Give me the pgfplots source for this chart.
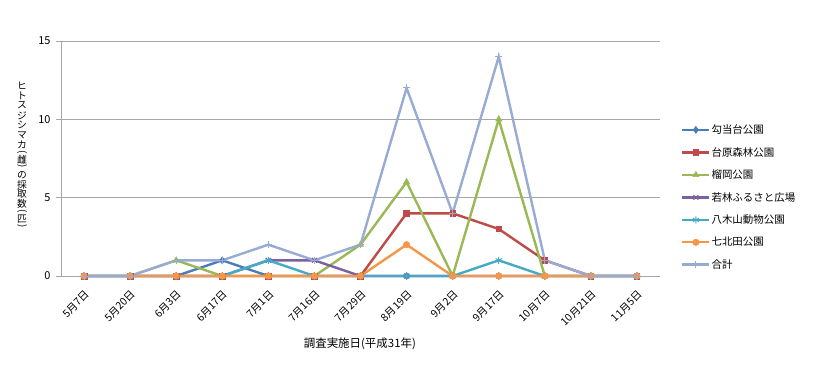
\documentclass[border=0pt]{standalone}
\usepackage{pgfplots}
\pgfplotsset{compat=1.18}
\usepackage{fontspec}
\setmainfont{Noto Sans CJK JP}
\usepackage{graphicx}
\definecolor{c1}{HTML}{4A7EBB}
\definecolor{c2}{HTML}{BE4B48}
\definecolor{c3}{HTML}{98B954}
\definecolor{c4}{HTML}{7D60A0}
\definecolor{c5}{HTML}{46AAC5}
\definecolor{c6}{HTML}{F79646}
\definecolor{c7}{HTML}{98ABD4}
\definecolor{gridc}{HTML}{A6A6A6}
\newcommand\vc[1]{\hbox to 11bp{\hss\vbox to 9.85bp{\vss\hbox{#1}\vss}\hss}}
\newcommand\vp[1]{\hbox to 11bp{\hss\vbox to 5bp{\vss\hbox{\rotatebox[origin=c]{-90}{#1}}\vss}\hss}}
\begin{document}
\begin{tikzpicture}
\path[use as bounding box] (0,0) rectangle (830bp,369bp);
\begin{axis}[
  at={(61bp,93bp)}, anchor=south west,
  scale only axis, width=599bp, height=235bp,
  xmin=-0.5, xmax=12.5, ymin=0, ymax=15,
  axis x line*=bottom, axis y line*=left,
  axis line style={gridc, line width=0.8bp},
  ytick={0,5,10,15}, ymajorgrids, grid style={gridc, line width=0.8bp},
  ytick style={gridc, line width=0.8bp}, tick align=outside, major tick length=5bp,
  xtick=data, xtick style={draw=none},
  xticklabels={5月7日,5月20日,6月3日,6月17日,7月1日,7月16日,7月29日,8月19日,9月2日,9月17日,10月7日,10月21日,11月5日},
  xticklabel style={xshift=6bp, yshift=-9bp, rotate=45, anchor=east, font=\fontsize{10.5}{11}\selectfont},
  yticklabel style={font=\fontsize{11}{12}\selectfont, xshift=-2bp},
  /pgf/number format/assume math mode=true,
  xlabel={調査実施日(平成31年)},
  xlabel style={at={(axis description cs:0.499,0)}, anchor=center, yshift=-68bp, font=\fontsize{11.5}{13}\selectfont},
  ylabel={\vbox{\offinterlineskip\vc{ヒ}\vc{ト}\vc{ス}\vc{ジ}\vc{シ}\vc{マ}\vc{カ}\vp{(}\vc{雌}\vp{)}\vc{の}\vc{採}\vc{取}\vc{数}\vp{(}\vc{匹}\vp{)}}},
  ylabel style={at={(axis description cs:-0.065,0.515)}, anchor=center, rotate=-90, font=\fontsize{9.8}{10}\selectfont, inner sep=0pt},
  legend style={at={(axis description cs:1.035,0.335)}, anchor=west, draw=none, fill=none,
    font=\fontsize{10.5}{12}\selectfont, row sep=10.2bp, inner sep=0pt,
    nodes={inner sep=1bp, anchor=west}},
  legend cell align=left,
  legend image code/.code={\draw[mark repeat=2,mark phase=2] plot coordinates {(0bp,0bp) (13.5bp,0bp) (27bp,0bp)};},
  every axis plot/.append style={line width=2.4bp, mark size=3bp},
  clip=false,
]
\addplot[c1, mark=diamond*, mark options={fill=c1, line width=0.6bp, mark size=3.5bp}] coordinates {(0,0)(1,0)(2,0)(3,1)(4,0)(5,0)(6,0)(7,0)(8,0)(9,0)(10,0)(11,0)(12,0)};
\addlegendentry{勾当台公園}
\addplot[c2, mark=square*, mark options={fill=c2, line width=0.6bp, mark size=2.8bp}] coordinates {(0,0)(1,0)(2,0)(3,0)(4,0)(5,0)(6,0)(7,4)(8,4)(9,3)(10,1)(11,0)(12,0)};
\addlegendentry{台原森林公園}
\addplot[c3, mark=triangle*, mark options={fill=c3, line width=0.6bp, mark size=3.5bp}] coordinates {(0,0)(1,0)(2,1)(3,0)(4,0)(5,0)(6,2)(7,6)(8,0)(9,10)(10,0)(11,0)(12,0)};
\addlegendentry{榴岡公園}
\addplot[c4, mark=x, mark options={line width=1bp, mark size=3.5bp}] coordinates {(0,0)(1,0)(2,0)(3,0)(4,1)(5,1)(6,0)(7,0)(8,0)(9,0)(10,0)(11,0)(12,0)};
\addlegendentry{若林ふるさと広場}
\addplot[c5, mark=asterisk, mark options={line width=1bp, mark size=3.5bp}] coordinates {(0,0)(1,0)(2,0)(3,0)(4,1)(5,0)(6,0)(7,0)(8,0)(9,1)(10,0)(11,0)(12,0)};
\addlegendentry{八木山動物公園}
\addplot[c6, mark=*, mark options={fill=c6, line width=0.6bp, mark size=3.2bp}] coordinates {(0,0)(1,0)(2,0)(3,0)(4,0)(5,0)(6,0)(7,2)(8,0)(9,0)(10,0)(11,0)(12,0)};
\addlegendentry{七北田公園}
\addplot[c7, mark=+, mark options={line width=1bp, mark size=3.5bp}] coordinates {(0,0)(1,0)(2,1)(3,1)(4,2)(5,1)(6,2)(7,12)(8,4)(9,14)(10,1)(11,0)(12,0)};
\addlegendentry{合計}
\end{axis}
\end{tikzpicture}
\end{document}
